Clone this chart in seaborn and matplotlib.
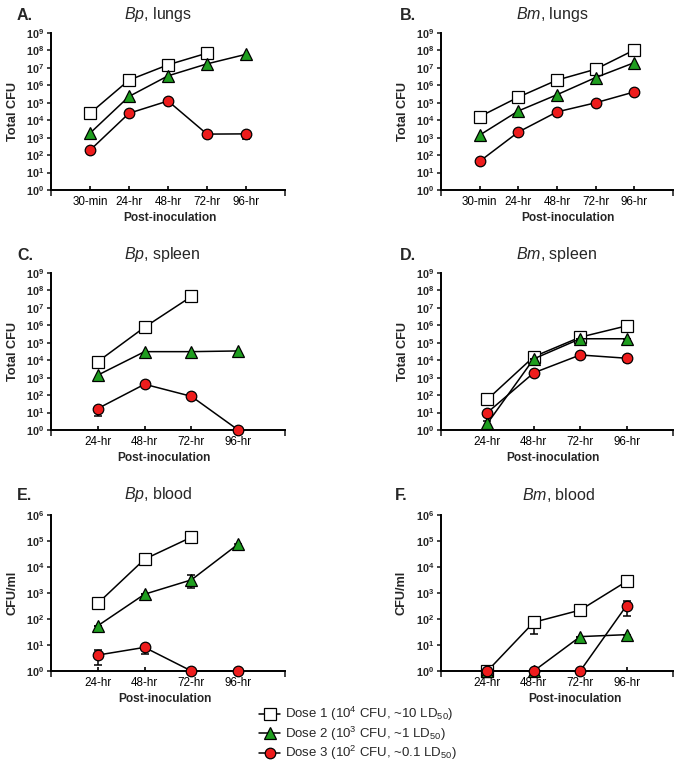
import numpy as np
import pandas as pd
import matplotlib
matplotlib.use('Agg')
import matplotlib.pyplot as plt
import seaborn as sns
from matplotlib.lines import Line2D
from matplotlib.ticker import FixedLocator, FixedFormatter, NullLocator

nan = np.nan

# ---------------- data ----------------
cats5 = ['30-min', '24-hr', '48-hr', '72-hr', '96-hr']
cats4 = ['24-hr', '48-hr', '72-hr', '96-hr']

# A. Bp, lungs
bp_lungs_d1 = [2.5e4, 2.0e6, 1.5e7, 7.0e7, nan]
bp_lungs_d2 = [1.8e3, 2.3e5, 3.5e6, 1.7e7, 6.0e7]
bp_lungs_d3 = [1.9e2, 2.5e4, 1.27e5, 1.6e3, 1.65e3]
bp_lungs_d3_lo = [nan, nan, nan, nan, 8.0e2]
bp_lungs_d3_hi = [nan, nan, nan, nan, nan]

# B. Bm, lungs
bm_lungs_d1 = [1.6e4, 2.1e5, 2.0e6, 8.4e6, 1.07e8]
bm_lungs_d2 = [1.4e3, 3.4e4, 2.9e5, 2.8e6, 2.0e7]
bm_lungs_d3 = [44, 2.1e3, 3.0e4, 1.0e5, 4.2e5]

# C. Bp, spleen
bp_spleen_d1 = [8.3e3, 7.8e5, 4.5e7, nan]
bp_spleen_d2 = [1.4e3, 3.1e4, 3.1e4, 3.4e4]
bp_spleen_d3 = [17, 4.2e2, 85, 1]
bp_spleen_d3_lo = [6.3, nan, nan, nan]
bp_spleen_d3_hi = [nan, nan, nan, nan]

# D. Bm, spleen
bm_spleen_d1 = [57, 1.6e4, 2.1e5, 9.3e5]
bm_spleen_d2 = [2.4, 1.2e4, 1.7e5, 1.7e5]
bm_spleen_d2_lo = [1.6, nan, nan, nan]
bm_spleen_d2_hi = [3.5, nan, nan, nan]
bm_spleen_d3 = [10, 1.9e3, 2.0e4, 1.3e4]
bm_spleen_d3_lo = [nan, nan, nan, 8.0e3]
bm_spleen_d3_hi = [nan, nan, nan, nan]

# E. Bp, blood
bp_blood_d1 = [4.0e2, 2.0e4, 1.4e5, nan]
bp_blood_d2 = [55, 9.0e2, 3.2e3, 7.6e4]
bp_blood_d2_lo = [nan, nan, 1.5e3, 4.8e4]
bp_blood_d2_hi = [nan, nan, 4.9e3, nan]
bp_blood_d3 = [4.1, 8.1, 1, 1]
bp_blood_d3_lo = [1.7, 4.5, nan, nan]
bp_blood_d3_hi = [6.4, nan, nan, nan]

# F. Bm, blood
bm_blood_d1 = [1, 75, 2.2e2, 2.8e3]
bm_blood_d1_lo = [nan, 27, nan, 1.7e3]
bm_blood_d1_hi = [nan, nan, nan, nan]
bm_blood_d2 = [1, 1, 21, 25]
bm_blood_d2_lo = [nan, nan, nan, 16]
bm_blood_d2_hi = [nan, nan, nan, nan]
bm_blood_d3 = [1, 1, 1, 330]
bm_blood_d3_lo = [nan, nan, nan, 128]
bm_blood_d3_hi = [nan, nan, nan, 480]

legend_labels = [r'Dose 1 (10$^{4}$ CFU, ~10 LD$_{50}$)',
                 r'Dose 2 (10$^{3}$ CFU, ~1 LD$_{50}$)',
                 r'Dose 3 (10$^{2}$ CFU, ~0.1 LD$_{50}$)']

panels = [
    dict(letter='A.', title=r'$\mathit{Bp}$, lungs', cats=cats5, ylabel='Total CFU', ymax=9,
         series=[(bp_lungs_d1, None, None), (bp_lungs_d2, None, None),
                 (bp_lungs_d3, bp_lungs_d3_lo, bp_lungs_d3_hi)]),
    dict(letter='B.', title=r'$\mathit{Bm}$, lungs', cats=cats5, ylabel='Total CFU', ymax=9,
         series=[(bm_lungs_d1, None, None), (bm_lungs_d2, None, None), (bm_lungs_d3, None, None)]),
    dict(letter='C.', title=r'$\mathit{Bp}$, spleen', cats=cats4, ylabel='Total CFU', ymax=9,
         series=[(bp_spleen_d1, None, None), (bp_spleen_d2, None, None),
                 (bp_spleen_d3, bp_spleen_d3_lo, bp_spleen_d3_hi)]),
    dict(letter='D.', title=r'$\mathit{Bm}$, spleen', cats=cats4, ylabel='Total CFU', ymax=9,
         series=[(bm_spleen_d1, None, None), (bm_spleen_d2, bm_spleen_d2_lo, bm_spleen_d2_hi),
                 (bm_spleen_d3, bm_spleen_d3_lo, bm_spleen_d3_hi)]),
    dict(letter='E.', title=r'$\mathit{Bp}$, blood', cats=cats4, ylabel='CFU/ml', ymax=6,
         series=[(bp_blood_d1, None, None), (bp_blood_d2, bp_blood_d2_lo, bp_blood_d2_hi),
                 (bp_blood_d3, bp_blood_d3_lo, bp_blood_d3_hi)]),
    dict(letter='F.', title=r'$\mathit{Bm}$, blood', cats=cats4, ylabel='CFU/ml', ymax=6,
         series=[(bm_blood_d1, bm_blood_d1_lo, bm_blood_d1_hi), (bm_blood_d2, bm_blood_d2_lo, bm_blood_d2_hi),
                 (bm_blood_d3, bm_blood_d3_lo, bm_blood_d3_hi)]),
]

# ---------------- style ----------------
sns.set_style('ticks')
plt.rcParams['font.family'] = ['Liberation Sans', 'DejaVu Sans']
plt.rcParams['mathtext.fontset'] = 'custom'
plt.rcParams['mathtext.rm'] = 'Liberation Sans'
plt.rcParams['mathtext.it'] = 'Liberation Sans:italic'
plt.rcParams['mathtext.bf'] = 'Liberation Sans:bold'

W, H = 683, 764
fig = plt.figure(figsize=(W / 100, H / 100), dpi=100)

styles = [dict(marker='s', markerfacecolor='white', markersize=8.0),
          dict(marker='^', markerfacecolor='#1f9e1f', markersize=8.8),
          dict(marker='o', markerfacecolor='#ee1c1c', markersize=7.6)]

# layout in pixels: (left, top, right, bottom)
boxes = [(51, 33, 285, 190), (441, 33, 673, 190),
         (51, 273, 285, 430), (441, 273, 673, 430),
         (51, 515, 285, 671), (441, 515, 673, 671)]
letter_pos = [(17, 15), (400, 15), (17, 255), (400, 255), (17, 495), (395, 495)]
title_pos = [(158, 15), (552, 15), (162, 255), (557, 255), (158, 495), (558, 495)]
ylabel_x = [19, 409, 19, 409, 19, 407]
xlabel_x = [170, 568, 164, 553, 165, 575]

for i, p in enumerate(panels):
    l, t, r, b = boxes[i]
    ax = fig.add_axes([l / W, 1 - b / H, (r - l) / W, (b - t) / H])
    n = len(p['cats'])
    xpos = np.arange(n)
    for j, (vals, lo, hi) in enumerate(p['series']):
        vals = np.asarray(vals, dtype=float)
        if lo is not None:
            lo_a = np.asarray(lo, dtype=float)
            hi_a = np.asarray(hi, dtype=float)
            elo = np.where(np.isnan(lo_a), 0, vals - lo_a)
            ehi = np.where(np.isnan(hi_a), 0, hi_a - vals)
            ax.errorbar(xpos, vals, yerr=[elo, ehi], fmt='none', ecolor='black',
                        elinewidth=1.1, capsize=3.2, capthick=1.1, zorder=2 + j, clip_on=False)
        df = pd.DataFrame({'x': xpos, 'y': vals}).dropna()
        sns.lineplot(data=df, x='x', y='y', ax=ax, color='black', linewidth=1.1,
                     markeredgecolor='black', markeredgewidth=0.9, estimator=None,
                     errorbar=None, zorder=3 + j, clip_on=False, **styles[j])
    ax.set_yscale('log')
    ax.set_ylim(1, 10 ** p['ymax'])
    ax.set_xlim(-1, n)
    exps = np.arange(0, p['ymax'] + 1)
    ax.yaxis.set_major_locator(FixedLocator(10.0 ** exps))
    ax.yaxis.set_major_formatter(FixedFormatter([r'$\mathbf{10^{%d}}$' % e for e in exps]))
    ax.yaxis.set_minor_locator(NullLocator())
    ax.set_xticks(xpos)
    ax.set_xticklabels(p['cats'])
    ax.set_xticks([-1, n], minor=True)
    ax.tick_params(axis='x', which='major', direction='in', length=3, width=1.2,
                   labelsize=8.4, pad=4.5, colors='black')
    ax.tick_params(axis='x', which='minor', direction='out', length=4, width=1.2)
    ax.tick_params(axis='y', which='major', direction='out', length=3, width=1.2,
                   labelsize=7.8, pad=2.0)
    for s in ['top', 'right']:
        ax.spines[s].set_visible(False)
    for s in ['left', 'bottom']:
        ax.spines[s].set_linewidth(1.4)
        ax.spines[s].set_color('black')
    ax.set_xlabel('Post-inoculation', fontsize=8.6, fontweight='bold')
    ax.set_ylabel(p['ylabel'], fontsize=9.2, fontweight='bold')
    ax.xaxis.set_label_coords((xlabel_x[i] - l) / (r - l), -22 / (b - t))
    ax.yaxis.set_label_coords((ylabel_x[i] - l) / (r - l), 0.5)
    fig.text(letter_pos[i][0] / W, 1 - letter_pos[i][1] / H, p['letter'], fontsize=11.5,
             fontweight='bold', ha='left', va='center')
    fig.text(title_pos[i][0] / W, 1 - title_pos[i][1] / H, p['title'], fontsize=11.5,
             ha='center', va='center')

handles = [Line2D([0], [0], color='black', linewidth=1.1, markeredgecolor='black',
                  markeredgewidth=0.9, **styles[j]) for j in range(3)]
fig.legend(handles, legend_labels, loc='upper left', bbox_to_anchor=(259 / W, 1 - 705 / H),
           frameon=False, fontsize=9.5, handlelength=1.6, handletextpad=0.4,
           labelspacing=0.1, borderpad=0, borderaxespad=0)

fig.savefig('out.png', dpi=100)
